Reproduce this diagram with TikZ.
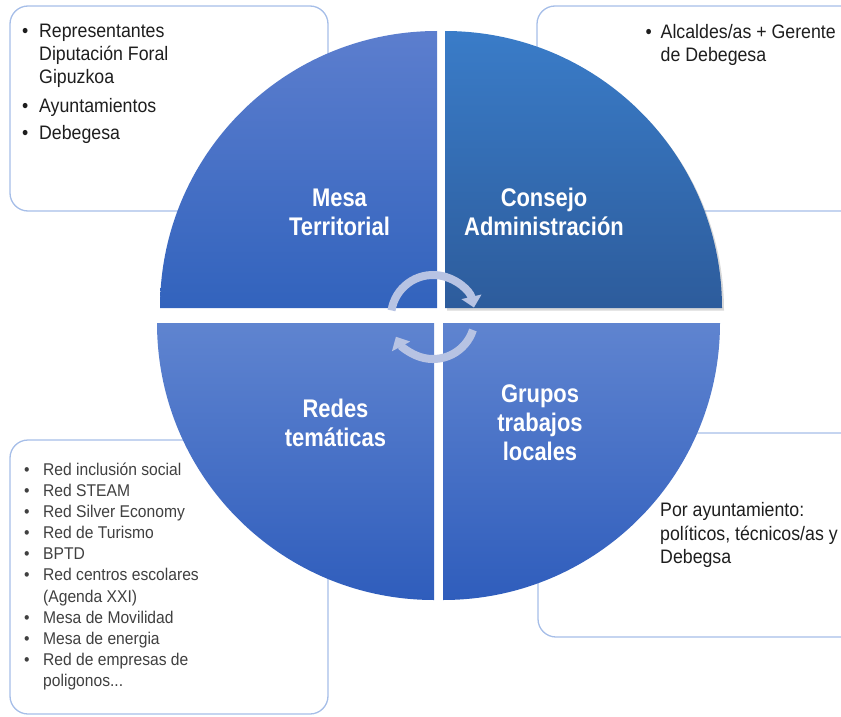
\documentclass[tikz,border=0pt]{standalone}
\usepackage{fontspec}
\setmainfont{Liberation Sans}
\newfontfamily\lblfont[FakeStretch=0.86]{Liberation Sans}
\newfontfamily\boxfont[FakeStretch=0.91]{Liberation Sans}
\newfontfamily\smallboxfont[FakeStretch=0.92]{Liberation Sans}
\usetikzlibrary{arrows.meta,shadows}
\definecolor{boxline}{HTML}{A6BEE8}
\definecolor{tlTop}{HTML}{5C7ECE}
\definecolor{tlBot}{HTML}{3263BD}
\definecolor{trTop}{HTML}{3A7CC8}
\definecolor{trBot}{HTML}{2D5C9C}
\definecolor{bTop}{HTML}{5F84D0}
\definecolor{bBot}{HTML}{2F5DBC}
\definecolor{arrowc}{HTML}{B7C3E3}
\definecolor{txt}{HTML}{1E1E1E}
\newcommand\bul[1]{\makebox[#1][l]{\textbullet}}
\begin{document}
\begin{tikzpicture}[x=1pt,y=-1pt,
  infobox/.style={draw=boxline,line width=1.3pt,rounded corners=18pt,fill=white},
  lbl/.style={text=white,align=center,inner sep=0pt,font=\lblfont\bfseries\fontsize{25.5}{29}\selectfont},
  boxtext/.style={text=txt,inner sep=0pt,anchor=base west,font=\boxfont\fontsize{19.5}{23.3}\selectfont},
  smalltext/.style={text=txt!85,inner sep=0pt,anchor=base west,font=\smallboxfont\fontsize{17}{21.17}\selectfont},
  cyc/.style={draw=arrowc,line width=8pt,-{Triangle[width=20pt,length=11pt]}}]
\useasboundingbox (0,0) rectangle (841,717);
\clip (0,0) rectangle (841,717);
% info boxes
\draw[infobox] (10,6) rectangle (328,211);
\draw[infobox] (537,6) rectangle (870,211);
\draw[infobox] (10,440) rectangle (328,714);
\draw[infobox] (538,433) rectangle (870,637);
% quadrants
\path[top color=tlTop,bottom color=tlBot] (437,308) -- ++(-277,0) arc[start angle=180,end angle=270,radius=277] -- cycle;
\path[top color=trTop,bottom color=trBot,drop shadow={shadow xshift=2pt,shadow yshift=-2.5pt,opacity=0.3}] (445,308) -- ++(0,-277) arc[start angle=270,end angle=360,radius=277] -- cycle;
\path[top color=bTop,bottom color=bBot] (443,323) -- ++(277,0) arc[start angle=0,end angle=90,radius=277] -- cycle;
\path[top color=bTop,bottom color=bBot] (434,323) -- ++(0,277) arc[start angle=90,end angle=180,radius=277] -- cycle;
% cycle arrows
\coordinate (cc) at (433,317);
\draw[cyc] (cc) ++(189:42) arc[start angle=189,end angle=347,radius=42];
\draw[cyc] (cc) ++(18:42) arc[start angle=18,end angle=152,radius=42];
% labels
\node[lbl] (mesa) at (339.5,212) {Mesa\\Territorial};
\node[lbl] (consejo) at (544,212) {Consejo\\Administración};
\node[lbl] (redes) at (335.5,422.5) {Redes\\temáticas};
\node[lbl] (grupos) at (540,422.5) {Grupos\\trabajos\\locales};
% box texts
\node[boxtext] (tltext) at (22,37.3) {\begin{tabular}[t]{@{}l@{}l@{}}
\bul{17pt} & Representantes\\
 & Diputación Foral\\
 & Gipuzkoa\\[5.5pt]
\bul{17pt} & Ayuntamientos\\[4pt]
\bul{17pt} & Debegesa
\end{tabular}};
\node[boxtext] (trtext) at (645.5,38.3) {\begin{tabular}[t]{@{}l@{}l@{}}
\bul{15pt} & Alcaldes/as + Gerente\\
 & de Debegesa
\end{tabular}};
\node[boxtext] (brtext) at (660,516.7) {\begin{tabular}[t]{@{}l@{}}
Por ayuntamiento:\\
políticos, técnicos/as y\\
Debegsa
\end{tabular}};
\node[smalltext] (bltext) at (24,475) {\begin{tabular}[t]{@{}l@{}l@{}}
\bul{19pt} & Red inclusión social\\
\bul{19pt} & Red STEAM\\
\bul{19pt} & Red Silver Economy\\
\bul{19pt} & Red de Turismo\\
\bul{19pt} & BPTD\\
\bul{19pt} & Red centros escolares\\
 & (Agenda XXI)\\
\bul{19pt} & Mesa de Movilidad\\
\bul{19pt} & Mesa de energia\\
\bul{19pt} & Red de empresas de\\
 & poligonos...
\end{tabular}};
\end{tikzpicture}
\end{document}
